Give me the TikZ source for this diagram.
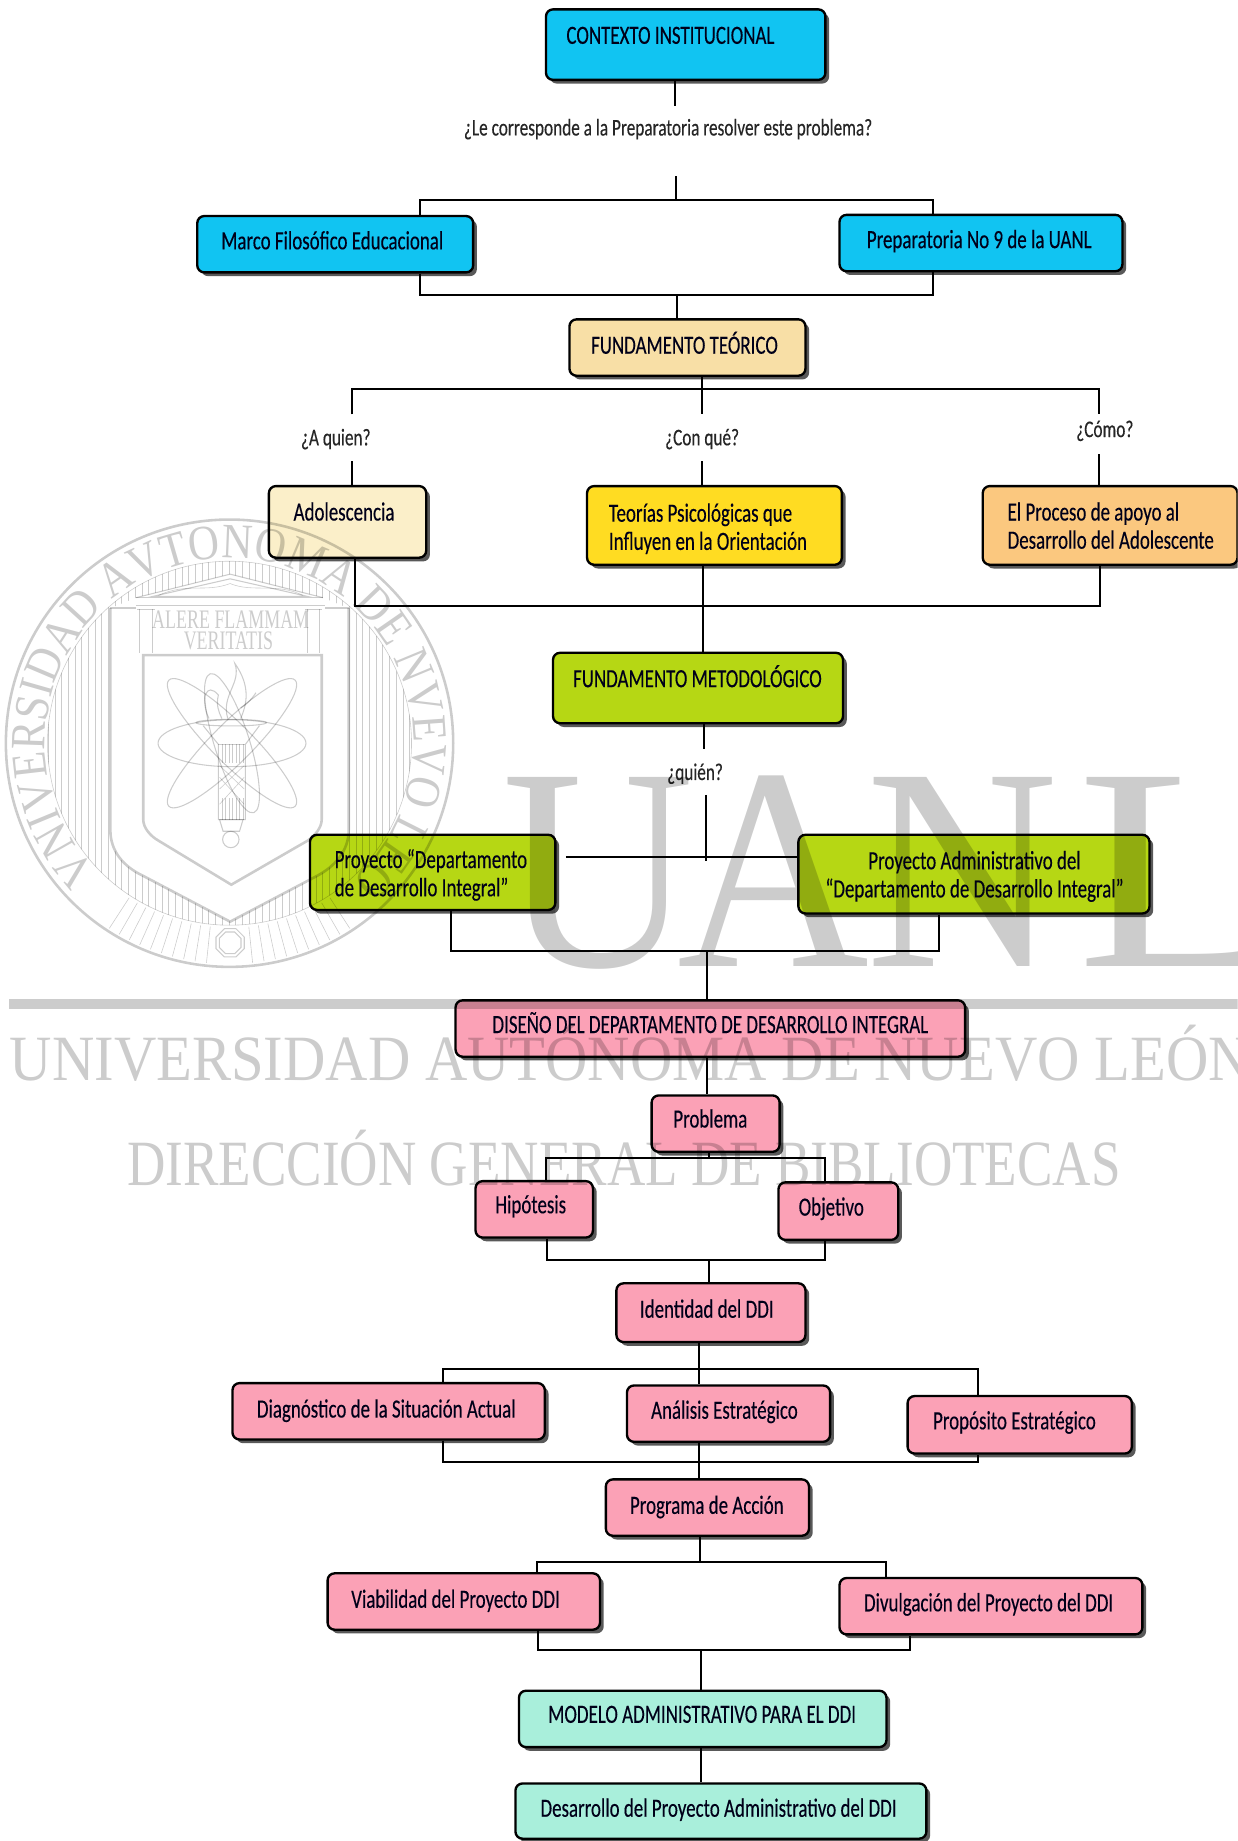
\documentclass[tikz,border=0pt]{standalone}
\usepackage{fontspec}
\setmainfont[FakeStretch=0.72,FakeBold=0.25]{Carlito}
\newfontfamily\wmfont{Liberation Serif}
\newfontfamily\wmring[FakeStretch=0.87]{Liberation Serif}
\usetikzlibrary{shadows,decorations.text}
\definecolor{cyanbox}{HTML}{11C4F2}
\definecolor{sandbox}{HTML}{F8DFA6}
\definecolor{creambox}{HTML}{FBEFC9}
\definecolor{yellowbox}{HTML}{FFDC22}
\definecolor{orangebox}{HTML}{FBC87F}
\definecolor{limebox}{HTML}{B6D714}
\definecolor{pinkbox}{HTML}{FBA1B6}
\definecolor{mintbox}{HTML}{A9EFDB}
\tikzset{
  flowbox/.style={draw=black,line width=1pt,rounded corners=3pt,inner sep=0pt,
    text=black!90!blue,
    font=\fontsize{11.2}{12}\selectfont,
    drop shadow={shadow xshift=1.6pt,shadow yshift=-1.6pt,fill=black,opacity=.65}},
  link/.style={draw=black,line width=.85pt},
  asklabel/.style={font=\fontsize{10.2}{11}\selectfont,inner sep=0pt,text=black!85},
  wmline/.style={draw=black,line width=.45pt},
  wmthick/.style={draw=black,line width=1.1pt},
  wmhair/.style={draw=black,line width=.25pt},
  wmbig/.style={inner sep=0pt,anchor=base west,font=\wmfont\fontsize{123}{123}\selectfont}
}
\newcommand\bx[9]{%
  \pgfmathsetmacro\bxCx{(#3+#5)/2}%
  \pgfmathsetmacro\bxCy{(#4+#6)/2}%
  \pgfmathsetmacro\bxW{0.5*(#5-#3)}%
  \pgfmathsetmacro\bxH{0.5*(#6-#4)}%
  \pgfmathsetmacro\bxX{#7-\bxCx}%
  \pgfmathsetmacro\bxY{0.5*(\bxCy-#8)-4}%
  \node[flowbox,fill=#2,minimum width=\bxW pt,minimum height=\bxH pt] (#1) at (\bxCx,\bxCy)
    {\raisebox{\bxY pt}[0pt][0pt]{\makebox[0pt]{\hspace{\bxX pt}$\vcenter{\hbox{\strut #9}}$}}};%
}
\newcommand\twol[2]{\raisebox{-.4pt}{\begin{tabular}{@{}l@{}}#1\\#2\end{tabular}}}
\newcommand\twoc[2]{\raisebox{-.4pt}{\begin{tabular}{@{}c@{}}#1\\#2\end{tabular}}}
\begin{document}
\begin{tikzpicture}[x=0.5pt,y=-0.5pt]
\useasboundingbox[clip] (0,0) rectangle (1054,1568);
\fill[white] (0,0) rectangle (1054,1568);
% boxes
\bx{ctx}{cyanbox}{465}{8}{703}{68}{571}{30}{CONTEXTO INSTITUCIONAL}
\bx{marco}{cyanbox}{168}{184}{403}{232}{283}{205}{Marco Filosófico Educacional}
\bx{prepa}{cyanbox}{715}{183}{956}{231}{834}{204}{Preparatoria No 9 de la UANL}
\bx{teor}{sandbox}{485}{272}{686}{320}{583}{293}{FUNDAMENTO TEÓRICO}
\bx{adol}{creambox}{229}{414}{363}{475}{293}{436}{Adolescencia}
\bx{psic}{yellowbox}{500}{414}{717}{481}{603}{449}{\twol{Teorías Psicológicas que}{Influyen en la Orientación}}
\bx{proc}{orangebox}{837}{414}{1054}{481}{946}{448}{\twol{El Proceso de apoyo al}{Desarrollo del Adolescente}}
\bx{metod}{limebox}{471}{556}{718}{616}{594}{577}{FUNDAMENTO METODOLÓGICO}
\bx{pddi}{limebox}{264}{711}{473}{775}{367}{744}{\twol{Proyecto “Departamento}{de Desarrollo Integral”}}
\bx{padm}{limebox}{680}{711}{979}{778}{830}{745}{\twoc{Proyecto Administrativo del}{“Departamento de Desarrollo Integral”}}
\bx{dis}{pinkbox}{388}{852}{822}{900}{605}{872}{DISEÑO DEL DEPARTAMENTO DE DESARROLLO INTEGRAL}
\bx{prob}{pinkbox}{555}{933}{664}{981}{605}{953}{Problema}
\bx{hip}{pinkbox}{405}{1006}{505}{1054}{452}{1026}{Hipótesis}
\bx{obj}{pinkbox}{663}{1007}{765}{1056}{708}{1028}{Objetivo}
\bx{iden}{pinkbox}{525}{1093}{686}{1143}{602}{1115}{Identidad del DDI}
\bx{diag}{pinkbox}{198}{1178}{464}{1226}{329}{1200}{Diagnóstico de la Situación Actual}
\bx{anal}{pinkbox}{534}{1180}{707}{1228}{617}{1201}{Análisis Estratégico}
\bx{prop}{pinkbox}{773}{1189}{964}{1238}{864}{1210}{Propósito Estratégico}
\bx{prog}{pinkbox}{516}{1260}{689}{1308}{602}{1282}{Programa de Acción}
\bx{viab}{pinkbox}{279}{1340}{511}{1388}{388}{1362}{Viabilidad del Proyecto DDI}
\bx{divu}{pinkbox}{715}{1344}{973}{1392}{842}{1365}{Divulgación del Proyecto del DDI}
\bx{mod}{mintbox}{442}{1440}{755}{1488}{598}{1460}{MODELO ADMINISTRATIVO PARA EL DDI}
\bx{des}{mintbox}{439}{1519}{789}{1566}{612}{1540}{Desarrollo del Proyecto Administrativo del DDI}
% question labels
\node[asklabel] (q1) at (569,110) {¿Le corresponde a la Preparatoria resolver este problema?};
\node[asklabel] (q2) at (286,374) {¿A quien?};
\node[asklabel] (q3) at (598,374) {¿Con qué?};
\node[asklabel] (q4) at (941,367) {¿Cómo?};
\node[asklabel] (q5) at (592,659) {¿quién?};
% free ends and junctions
\coordinate (c1) at (575,90);
\coordinate (c2) at (576,150);
\coordinate (b1l) at (358,170); \coordinate (b1r) at (795,170);
\coordinate (b2l) at (358,251); \coordinate (b2r) at (795,251); \coordinate (b2m) at (577,251);
\coordinate (b3l) at (300,331); \coordinate (b3r) at (936,331); \coordinate (b3m) at (598,331);
\coordinate (e3l) at (300,353); \coordinate (e3m) at (598,353); \coordinate (e3r) at (936,353);
\coordinate (s3l) at (300,393); \coordinate (s3m) at (598,393); \coordinate (s3r) at (936,387);
\coordinate (b4l) at (302,516); \coordinate (b4r) at (937,516); \coordinate (b4m) at (599,516);
\coordinate (c5) at (600,638);
\coordinate (c6) at (601,677); \coordinate (c7) at (601,733);
\coordinate (b5l) at (482,730);
\coordinate (b6l) at (384,810); \coordinate (b6r) at (800,810); \coordinate (b6m) at (602,810);
\coordinate (b7l) at (465,986); \coordinate (b7r) at (703,986); \coordinate (b7m) at (604,986);
\coordinate (b8l) at (466,1073); \coordinate (b8r) at (703,1073); \coordinate (b8m) at (604,1073);
\coordinate (b9l) at (377,1166); \coordinate (b9r) at (833,1166); \coordinate (b9m) at (595,1166);
\coordinate (b10l) at (377,1245); \coordinate (b10r) at (833,1245); \coordinate (b10m) at (595,1245);
\coordinate (b11l) at (457,1330); \coordinate (b11r) at (755,1330); \coordinate (b11m) at (596,1330);
\coordinate (b12l) at (458,1405); \coordinate (b12r) at (775,1405); \coordinate (b12m) at (597,1405);
% connectors
\draw[link] (ctx.south -| c1) -- (c1);
\draw[link] (c2) -- (c2 |- b1l);
\draw[link] (marco.north -| b1l) -- (b1l) -- (b1r) -- (prepa.north -| b1r);
\draw[link] (marco.south -| b2l) -- (b2l) -- (b2r) -- (prepa.south -| b2r);
\draw[link] (b2m) -- (teor.north -| b2m);
\draw[link] (teor.south -| b3m) -- (e3m);
\draw[link] (e3l) -- (b3l) -- (b3r) -- (e3r);
\draw[link] (s3l) -- (adol.north -| s3l);
\draw[link] (s3m) -- (psic.north -| s3m);
\draw[link] (s3r) -- (proc.north -| s3r);
\draw[link] (adol.south -| b4l) -- (b4l) -- (b4r) -- (proc.south -| b4r);
\draw[link] (psic.south -| b4m) -- (metod.north -| b4m);
\draw[link] (metod.south -| c5) -- (c5);
\draw[link] (c6) -- (c7);
\draw[link] (b5l) -- (padm.west |- b5l);
\draw[link] (pddi.south -| b6l) -- (b6l) -- (b6r) -- (padm.south -| b6r);
\draw[link] (b6m) -- (dis.north -| b6m);
\draw[link] (dis.south -| b6m) -- (prob.north -| b6m);
\draw[link] (prob.south -| b7m) -- (b7m);
\draw[link] (hip.north -| b7l) -- (b7l) -- (b7r) -- (obj.north -| b7r);
\draw[link] (hip.south -| b8l) -- (b8l) -- (b8r) -- (obj.south -| b8r);
\draw[link] (b8m) -- (iden.north -| b8m);
\draw[link] (iden.south -| b9m) -- (anal.north -| b9m);
\draw[link] (diag.north -| b9l) -- (b9l) -- (b9r) -- (prop.north -| b9r);
\draw[link] (diag.south -| b10l) -- (b10l) -- (b10r) -- (prop.south -| b10r);
\draw[link] (anal.south -| b10m) -- (prog.north -| b10m);
\draw[link] (prog.south -| b11m) -- (b11m);
\draw[link] (viab.north -| b11l) -- (b11l) -- (b11r) -- (divu.north -| b11r);
\draw[link] (viab.south -| b12l) -- (b12l) -- (b12r) -- (divu.south -| b12r);
\draw[link] (b12m) -- (mod.north -| b12m);
\draw[link] (mod.south -| b12m) -- (des.north -| b12m);
% watermark, laid over the chart like a grey multiply
\begin{scope}[opacity=.2,text opacity=.2]
  \node[wmbig] (wbU) at (428,823) {\scalebox{.92}[1]{U}};
  \node[wmbig] (wbA) at (577,823) {\scalebox{.92}[1]{A}};
  \node[wmbig] (wbN) at (738,823) {\scalebox{.92}[1]{N}};
  \node[wmbig] (wbL) at (917,823) {\scalebox{1.15}[1]{L}};
  \fill (8,851) rectangle (1054,859);
  \node[inner sep=0pt,anchor=base west,font=\wmfont\fontsize{27.5}{30}\selectfont] (wT1) at (8,920) {\scalebox{.908}[1]{UNIVERSIDAD AUTÓNOMA DE NUEVO LEÓN}};
  \node[inner sep=0pt,anchor=base west,font=\wmfont\fontsize{27.5}{30}\selectfont] (wT2) at (108,1010) {\scalebox{.823}[1]{DIRECCIÓN GENERAL DE BIBLIOTECAS}};
  % seal rings and ring text
  \draw[wmthick] (195.5,633) circle[radius=190.5];
  \draw[wmhair] (195.5,633) circle[radius=155];
  \path[decorate,decoration={text along path,text align={fit to path},
     text={|\wmring\fontsize{21}{21}\selectfont|VNIVERSIDAD AVTONOMA DE NVEVO LEON}}]
     (82.6,741.5) arc[start angle=136,end angle=412,radius=157];
  % vertical hatching between inner ring and outer shield
  \begin{scope}[even odd rule]
    \clip (195.5,633) circle[radius=155];
    \clip (0,430) rectangle (400,830)
      (94,518) -- (116,509) -- (196,489) -- (275,509) -- (297,518) -- (297,707)
      .. controls (297,725) and (285,738) .. (270,746) -- (196,785) -- (122,746)
      .. controls (105,738) and (94,725) .. (94,707) -- cycle;
    \foreach \hx in {41,46.7,...,352} \draw[wmhair] (\hx,470) -- (\hx,800);
  \end{scope}
  % radial hatching at the foot of the seal
  \foreach \ang in {57,60,...,84,96,99,...,123}
    \draw[wmhair] ({195.5+157*cos(\ang)},{633+157*sin(\ang)}) -- ({195.5+188*cos(\ang)},{633+188*sin(\ang)});
  \foreach \rr in {13,10}
    \draw[wmline] plot[samples at={22.5,67.5,...,337.5}] ({196+\rr*cos(\x)},{803+\rr*sin(\x)}) -- cycle;
  % building and shields
  \draw[wmthick] (94,518) -- (94,707) .. controls (94,725) and (105,738) .. (122,746) -- (196,785) -- (270,746)
     .. controls (285,738) and (297,725) .. (297,707) -- (297,518);
  \draw[wmthick] (94,518) -- (116,518) (277,518) -- (297,518);
  \draw[wmline] (116,509) -- (196,489) -- (275,509);
  \draw[wmline] (130,508) -- (196,493) -- (262,508) -- cycle;
  \draw[wmline] (116,509) -- (275,509) (116,516) -- (277,516);
  \draw[wmhair] (135,507) .. controls (160,496) and (175,505) .. (196,497) .. controls (215,505) and (235,496) .. (258,507);
  \foreach \cxx in {119,130,262,272} \draw[wmhair] (\cxx,519) -- (\cxx,556);
  \draw[wmline] (117,519) -- (132,519) (260,519) -- (274,519);
  \node[inner sep=0pt,font=\wmfont\fontsize{11.4}{12}\selectfont] (wA) at (196.5,528) {\scalebox{.67}[1]{ALERE FLAMMAM}};
  \node[inner sep=0pt,font=\wmfont\fontsize{11.4}{12}\selectfont] (wV) at (194.5,546) {\scalebox{.67}[1]{VERITATIS}};
  \draw[wmthick] (122,558) -- (274,558) -- (274,698) .. controls (274,705) and (268,712) .. (262,716) -- (197,753.5) -- (135,716)
     .. controls (128,712) and (122,705) .. (122,698) -- cycle;
  % atom
  \draw[wmline] (197.6,633) ellipse[x radius=63,y radius=20];
  \draw[wmline,rotate around={45:(197.6,633)}] (197.6,633) ellipse[x radius=76,y radius=17];
  \draw[wmline,rotate around={-45:(197.6,633)}] (197.6,633) ellipse[x radius=76,y radius=17];
  \draw[wmline,rotate around={-72.6:(197.6,633)}] (197.6,633) ellipse[x radius=62,y radius=15];
  % torch
  \draw[wmline] (197,615.5) ellipse[x radius=30,y radius=2.8];
  \draw[wmline] (173,618) -- (186,634) -- (186,698) -- (209,698) -- (209,634) -- (221,618);
  \draw[wmline] (186,634) -- (209,634);
  \foreach \tx in {189,192,...,207} {\draw[wmhair] (\tx,634) -- (\tx,650); \draw[wmhair] (\tx,680) -- (\tx,698);}
  \draw[wmhair] (187,652) -- (208,672) (208,652) -- (187,672) (187,662) -- (208,685) (208,662) -- (187,685);
  \draw[wmline] (187,698) -- (207,698) -- (204,708) -- (190,708) -- cycle;
  \draw[wmline] (196.6,715) circle[radius=7];
  \draw[wmline] (178,612) .. controls (170,595) and (176,580) .. (186,592) .. controls (184,600) and (186,606) .. (189,612);
  \draw[wmline] (194,612) .. controls (188,592) and (206,582) .. (200,565) .. controls (214,585) and (210,600) .. (205,612);
  \draw[wmline] (205,603) .. controls (210,600) and (214,596) .. (218,590);
\end{scope}
\end{tikzpicture}
\end{document}
